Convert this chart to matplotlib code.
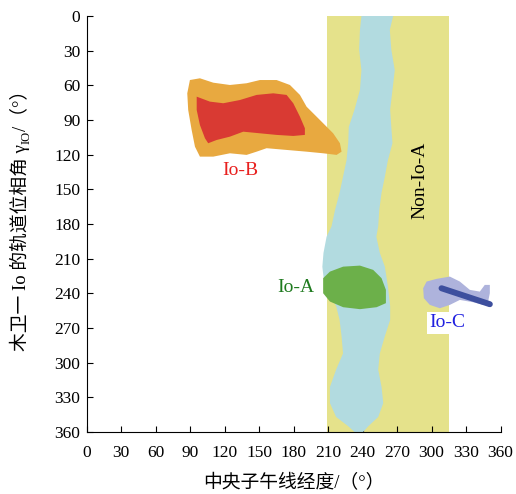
import numpy as np
import matplotlib
matplotlib.use("Agg")
import matplotlib.pyplot as plt
from matplotlib.patches import Polygon

fam = ['Liberation Serif', 'Noto Sans CJK SC']
plt.rcParams['font.family'] = fam

# non-Io-A band (central meridian longitude range)
band_x = [209, 315]

# Io-A light blue strip: phase angle and left / right longitude edges
strip_y = [0, 12, 29, 47, 64, 81, 96, 110, 125, 139, 153, 168, 182, 191,
           205, 217, 234, 251, 263, 277, 292, 306, 321, 335, 347, 355, 360]
strip_left = [239, 237.7, 237, 239, 237.7, 233, 228, 227.5, 226, 223, 220,
              216, 213, 208.7, 206, 205, 207, 217, 220, 221.7, 223, 217,
              211.6, 211.6, 217, 227.5, 233]
strip_right = [266.6, 263.7, 265, 268, 266, 264, 265, 266, 262, 259.4, 256.5,
               254.5, 253.6, 252, 255, 259.4, 262, 264, 264, 259.4, 255,
               253.6, 256.5, 258, 253.6, 245, 240.5]

# Io-B outer (orange) and inner (red) contours
iob_out_x = [89.8, 98.5, 110.1, 124.6, 139.1, 150.7, 165.2, 176.8, 185.5,
             191.3, 202.9, 214.4, 220.3, 221.7, 217.4, 205.7, 191.3, 173.9,
             156.5, 147.8, 139.1, 124.6, 110.1, 98.5, 94.2, 91.3, 88.3, 87.5]
iob_out_y = [55.4, 53.9, 57.7, 59.7, 58.2, 55.4, 55.4, 59.7, 68.3, 78.5, 90,
             101.5, 110.1, 117.4, 120.2, 118.8, 117.4, 115.9, 114.4, 117.4,
             120.2, 118.8, 121.7, 121.7, 113.1, 98.6, 81.3, 66.9]
iob_in_x = [95.7, 107.2, 118.8, 133.3, 147.8, 162.3, 173.9, 179.7, 185.5,
            189.8, 189.8, 179.7, 165.2, 150.7, 136.2, 124.6, 113, 105.7,
            102.9, 98.5, 95.7]
iob_in_y = [69.8, 74.1, 75.5, 72.7, 68.3, 66.9, 68.3, 75.5, 87.1, 97.1, 102.9,
            103.8, 102.9, 101.5, 100.1, 104.4, 107.3, 110.1, 105.8, 94.3, 81.3]

# Io-A (green)
ioa_x = [205.7, 211.6, 223.1, 237.7, 249.2, 256.5, 260.3, 260.3, 252.2,
         237.7, 223.1, 211.6, 205.7]
ioa_y = [226.9, 221.2, 216.9, 216, 219.7, 226.9, 237, 248.5, 252, 253.7,
         252, 247.1, 239.9]

# Io-C (lavender) and its dark core line
ioc_x = [292.7, 295.7, 304.3, 315.9, 324.6, 333.3, 342, 346.3, 350.7, 350.7,
         349.2, 350.7, 344.9, 336.2, 324.6, 315.9, 307.2, 298.5, 293.3]
ioc_y = [235.6, 229.8, 227.5, 225.5, 229.8, 237, 238.5, 232.7, 232.7, 239.9,
         247.1, 250, 250, 247.7, 245.7, 250, 252.9, 250, 244.2]
ioc_line_x = [308.7, 350.7]
ioc_line_y = [235.6, 249.4]

ticks = np.arange(0, 361, 30)

fig = plt.figure(figsize=(5.16, 4.94), dpi=100)
ax = fig.add_axes([0.168, 0.1255, 0.802, 0.8421])

ax.axvspan(band_x[0], band_x[1], color='#e5e28b', lw=0, zorder=1)
strip = list(zip(strip_left, strip_y)) + list(zip(strip_right, strip_y))[::-1]
ax.add_patch(Polygon(strip, closed=True, fc='#b2dbe0', ec='none', zorder=2))
ax.add_patch(Polygon(list(zip(iob_out_x, iob_out_y)), closed=True,
                     fc='#e8a940', ec='none', zorder=3))
ax.add_patch(Polygon(list(zip(iob_in_x, iob_in_y)), closed=True,
                     fc='#d93a33', ec='none', zorder=4))
ax.add_patch(Polygon(list(zip(ioa_x, ioa_y)), closed=True,
                     fc='#6cb04a', ec='none', zorder=4))
ax.add_patch(Polygon(list(zip(ioc_x, ioc_y)), closed=True,
                     fc='#aeb3dc', ec='none', zorder=4))
ax.plot(ioc_line_x, ioc_line_y, color='#3d4f9e', lw=4.3,
        solid_capstyle='round', zorder=5)

ax.text(133.5, 134, 'Io-B', color='#e8201e', fontsize=14,
        ha='center', va='center', zorder=6)
ax.text(182, 235.3, 'Io-A', color='#1e7a1e', fontsize=14,
        ha='center', va='center', zorder=6)
ax.text(313.3, 265.6, 'Io-C', color='#2020e0', fontsize=14,
        ha='center', va='center', zorder=6,
        bbox=dict(fc='white', ec='none', pad=1.5))
ax.text(289.8, 141.9, 'Non-Io-A', color='black', fontsize=14, rotation=90,
        ha='center', va='center', zorder=6)

ax.set_xlim(0, 360)
ax.set_ylim(360, 0)
ax.set_xticks(ticks)
ax.set_yticks(ticks)
ax.spines['top'].set_visible(False)
ax.spines['right'].set_visible(False)
ax.tick_params(direction='in', length=4, labelsize=12.5)
ax.tick_params(axis='x', pad=9)
ax.tick_params(axis='y', pad=4.5)

ax.set_xlabel('中央子午线经度/（°）', fontsize=13.5, labelpad=10)

# y label built from pieces so the subscript keeps the CJK fallback
lab1 = fig.text(0.039, 0.29, '木卫一 Io 的轨道位相角 γ', rotation=90,
                ha='center', va='bottom', fontsize=13.5)
lab2 = fig.add_artist(plt.Annotation('IO', xy=(0.8, 1), xycoords=lab1,
                                     rotation=90, ha='center', va='bottom',
                                     fontsize=9))
fig.add_artist(plt.Annotation('/（°）', xy=(0.5, 1), xycoords=(lab1, lab2),
                              rotation=90, ha='center', va='bottom',
                              fontsize=13.5))

fig.savefig('out.png', dpi=100)
